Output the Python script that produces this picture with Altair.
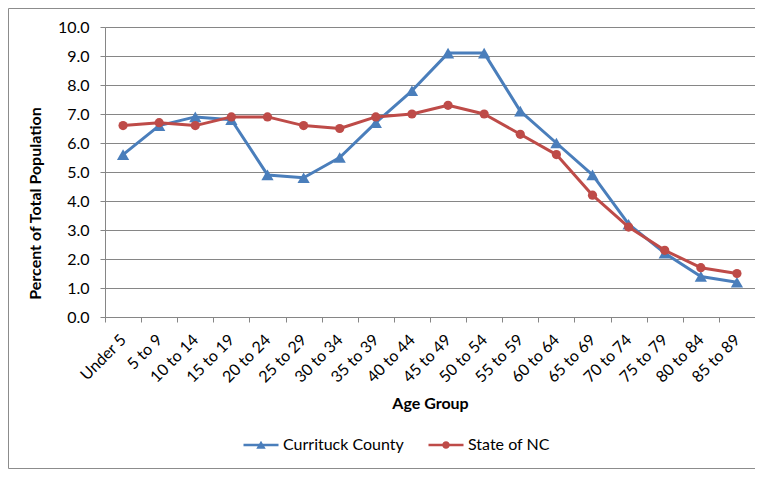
import altair as alt
import pandas as pd

age_groups = ["Under 5", "5 to 9", "10 to 14", "15 to 19", "20 to 24", "25 to 29",
              "30 to 34", "35 to 39", "40 to 44", "45 to 49", "50 to 54", "55 to 59",
              "60 to 64", "65 to 69", "70 to 74", "75 to 79", "80 to 84", "85 to 89"]
currituck = [5.6, 6.6, 6.9, 6.8, 4.9, 4.8, 5.5, 6.7, 7.8, 9.1, 9.1, 7.1, 6.0, 4.9, 3.2, 2.2, 1.4, 1.2]
state_nc = [6.6, 6.7, 6.6, 6.9, 6.9, 6.6, 6.5, 6.9, 7.0, 7.3, 7.0, 6.3, 5.6, 4.2, 3.1, 2.3, 1.7, 1.5]
series_names = ["Currituck County", "State of NC"]
series_colors = ["#4A7EBB", "#BE4B48"]
y_ticks = [0, 1, 2, 3, 4, 5, 6, 7, 8, 9, 10]

rows = []
for name, vals in zip(series_names, [currituck, state_nc]):
    for a, v in zip(age_groups, vals):
        rows.append({"age": a, "pct": v, "series": name})
df = pd.DataFrame(rows)
legend_df = pd.DataFrame({"series": series_names})

FONT = "Lato"
GRID = "#868686"
TICK_FS = 16
TITLE_FS = 16

x_enc = alt.X("age:N", sort=age_groups,
              scale=alt.Scale(type="band", paddingInner=0, paddingOuter=0),
              axis=alt.Axis(title="Age Group", labelAngle=-45, labelAlign="right",
                            labelBaseline="middle", labelPadding=15, tickBand="extent",
                            tickSize=5, tickColor=GRID, domainColor=GRID, grid=False,
                            labelFont=FONT, labelFontSize=TICK_FS, labelColor="#000000",
                            titleFont=FONT, titleFontSize=TITLE_FS, titleFontWeight="bold",
                            titleColor="#000000", titleBaseline="top", titleY=78,
                            titleX=325))
y_enc = alt.Y("pct:Q", scale=alt.Scale(domain=[0, 10], nice=False),
              axis=alt.Axis(title="Percent of Total Population", values=y_ticks, format=".1f",
                            tickSize=5, tickColor=GRID, domainColor=GRID, gridColor=GRID,
                            labelPadding=11, labelFont=FONT, labelFontSize=TICK_FS,
                            labelColor="#000000", titleFont=FONT, titleFontSize=TITLE_FS,
                            titleFontWeight="bold", titleColor="#000000",
                            titleX=-70, titleY=176, titleAngle=-90, titleAlign="center",
                            titleBaseline="middle"))

base = alt.Chart(df).encode(x=x_enc, y=y_enc)

def series_layers(name, color, shape, size):
    sub = base.transform_filter(alt.datum.series == name)
    line = sub.mark_line(strokeWidth=3, strokeJoin="round", color=color)
    pts = sub.mark_point(filled=True, opacity=1, shape=shape, size=size, color=color)
    return [line, pts]

tri_path = "M-3.5,-0.25 H3.5 V0.25 H-3.5 Z M0,-0.85 L0.95,0.75 L-0.95,0.75 Z"
circ_path = ("M-3.5,-0.25 H3.5 V0.25 H-3.5 Z M-0.75,0 A0.75,0.75 0 1,1 0.75,0 "
             "A0.75,0.75 0 1,1 -0.75,0 Z")

leg = dict(title=None, orient="none", direction="horizontal",
           legendX=148, legendY=410, symbolSize=100, symbolOpacity=1,
           labelOffset=14, columnPadding=24,
           labelFont=FONT, labelFontSize=TICK_FS, labelColor="#000000",
           symbolStrokeWidth=0)

legend_layer = alt.Chart(legend_df).mark_point(filled=True, opacity=0).encode(
    color=alt.Color("series:N", scale=alt.Scale(domain=series_names, range=series_colors),
                    legend=alt.Legend(**leg)),
    shape=alt.Shape("series:N", scale=alt.Scale(domain=series_names, range=[tri_path, circ_path]),
                    legend=alt.Legend(**leg)),
)

frame = alt.Chart(pd.DataFrame({"k": [0]})).mark_rect(
    fill=None, stroke="#8C8C8C", strokeWidth=1).encode(
    x=alt.value(-96.5), x2=alt.value(700), y=alt.value(-18.5), y2=alt.value(441.5))

layers = [frame] + series_layers("Currituck County", series_colors[0], "triangle-up", 150) + \
         series_layers("State of NC", series_colors[1], "circle", 85) + [legend_layer]

chart = alt.layer(*layers).properties(
    width=650, height=290,
    autosize=alt.AutoSizeParams(type="none"),
    padding={"left": 97, "top": 19, "right": 0, "bottom": 152},
).configure_view(stroke=None).configure(background="white")

chart.save("out.html", embed_options={"renderer": "svg", "actions": False})
